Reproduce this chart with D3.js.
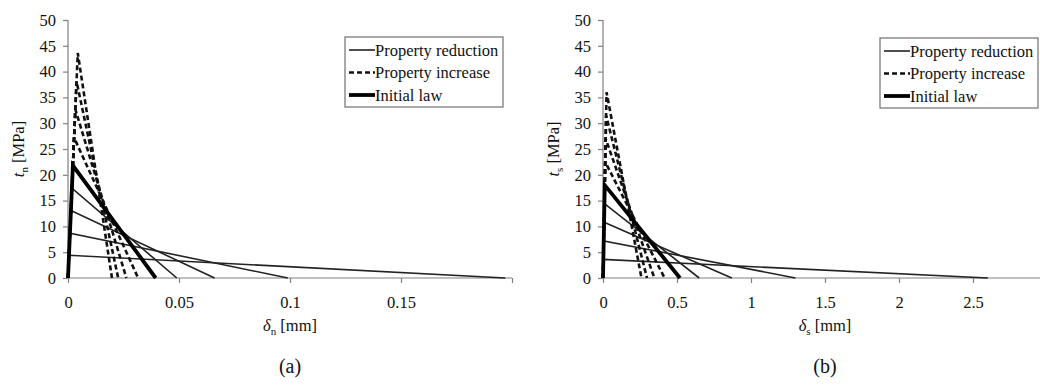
<!DOCTYPE html>
<html><head><meta charset="utf-8">
<script src="https://cdn.jsdelivr.net/npm/d3@7"></script>
<style>body{margin:0;background:#fff}svg{display:block}text{font-family:"Liberation Serif","Times New Roman","DejaVu Serif",serif;fill:#111}</style>
</head><body><svg id="c" width="1040" height="385"></svg>
<script>
// ---- Panel (a): normal direction ----
const aInitial = {peak: 21.8, d0: 0.0022, df: 0.0395};
const aReductionPeak = [17.4, 13.1, 8.7, 4.4];
const aReductionD0 = [0.00176, 0.00132, 0.00088, 0.00044];
const aReductionDf = [0.049, 0.066, 0.099, 0.197];
const aIncreasePeak = [27.2, 32.7, 38.1, 43.6];
const aIncreaseD0 = [0.00275, 0.0033, 0.00385, 0.0044];
const aIncreaseDf = [0.0316, 0.0263, 0.0226, 0.0198];
const aXTicks = [0, 0.05, 0.1, 0.15, 0.2];
const aXTickLabels = ["0", "0.05", "0.1", "0.15", ""];
// ---- Panel (b): shear direction ----
const bInitial = {peak: 18, d0: 0.012, df: 0.52};
const bReductionPeak = [14.4, 10.8, 7.2, 3.6];
const bReductionD0 = [0.0096, 0.0072, 0.0048, 0.0024];
const bReductionDf = [0.65, 0.87, 1.3, 2.6];
const bIncreasePeak = [22.5, 27, 31.5, 36];
const bIncreaseD0 = [0.015, 0.018, 0.021, 0.024];
const bIncreaseDf = [0.416, 0.347, 0.297, 0.26];
const bXTicks = [0, 0.5, 1, 1.5, 2, 2.5];
const bXTickLabels = ["0", "0.5", "1", "1.5", "2", "2.5"];
const yTicks = [0, 5, 10, 15, 20, 25, 30, 35, 40, 45, 50];
const legendLabels = ["Property reduction", "Property increase", "Initial law"];

const FONT = '"Liberation Serif","Times New Roman","DejaVu Serif",serif';
const svg = d3.select("#c");
const axisColor = "#808080";
const styles = {
  reduction: {w: 1.6, dash: null, c: "#222"},
  increase: {w: 2.6, dash: "5,3", c: "#111"},
  initial: {w: 3.8, dash: null, c: "#000"}
};

function panel(o) {
  const x = d3.scaleLinear().domain(o.xDomain).range(o.xRange);
  const y = d3.scaleLinear().domain([0, 50]).range([278, 20]);
  const g = svg.append("g");
  const ya = g.append("g").attr("transform", `translate(${o.xRange[0]},0)`)
    .call(d3.axisLeft(y).tickValues(yTicks).tickSize(5).tickPadding(7));
  const xa = g.append("g").attr("transform", `translate(0,278)`)
    .call(d3.axisBottom(x).tickValues(o.xTicks).tickFormat((d,i)=>o.xLabels[i]).tickSize(5).tickPadding(13));
  [ya, xa].forEach(a => {
    a.attr("font-family", null).attr("font-size", null);
    a.select(".domain").attr("stroke", axisColor).attr("stroke-width", 1.2);
    a.selectAll(".tick line").attr("stroke", axisColor).attr("stroke-width", 1.2);
    a.selectAll("text").style("font-family", FONT).style("font-size", "16.5px").attr("fill", "#111");
  });
  xa.select(".domain").attr("d", `M${o.xRange[0]},0H${Math.min(o.xRange[1],1040)}`);
  ya.select(".domain").attr("d", "M0,278V20");

  const line = d3.line().x(d => x(d[0])).y(d => y(d[1]));
  const law = (p, d0, df) => [[0, 0], [d0, p], [df, 0]];
  const draw = (pts, s) => g.append("path").attr("d", line(pts)).attr("fill", "none")
    .attr("stroke", s.c).attr("stroke-width", s.w).attr("stroke-dasharray", s.dash)
    .attr("stroke-linejoin", "miter");
  o.redP.forEach((p, i) => draw(law(p, o.redD0[i], o.redDf[i]), styles.reduction));
  o.incP.forEach((p, i) => draw(law(p, o.incD0[i], o.incDf[i]), styles.increase));
  draw(law(o.init.peak, o.init.d0, o.init.df), styles.initial);

  const lx = o.legX, ly = o.legY;
  g.append("rect").attr("x", lx).attr("y", ly).attr("width", 158).attr("height", 70)
    .attr("fill", "#fff").attr("stroke", "#707070").attr("stroke-width", 1.2);
  const keys = ["reduction", "increase", "initial"];
  keys.forEach((k, i) => {
    const yy = ly + 13 + i * 22.5;
    const s = styles[k];
    g.append("line").attr("x1", lx + 4).attr("x2", lx + 30).attr("y1", yy).attr("y2", yy)
      .attr("stroke", s.c).attr("stroke-width", s.w).attr("stroke-dasharray", s.dash);
    g.append("text").attr("x", lx + 30).attr("y", yy + 5.5).style("font-family", FONT).style("font-size", "16.5px").text(legendLabels[i]);
  });

  const cx = (o.xRange[0] + Math.min(o.xRange[1], 1047)) / 2;
  const yt = g.append("text").attr("transform", `translate(${o.xRange[0] - 44},149) rotate(-90)`)
    .attr("text-anchor", "middle").style("font-family", FONT).style("font-size", "16.5px");
  yt.append("tspan").style("font-style", "italic").text("t");
  yt.append("tspan").attr("dy", 4).style("font-size", "11px").text(o.sub);
  yt.append("tspan").attr("dy", -4).text(" [MPa]");
  const xt = g.append("text").attr("x", cx).attr("y", 331).attr("text-anchor", "middle").style("font-family", FONT).style("font-size", "16.5px");
  xt.append("tspan").style("font-style", "italic").text("δ");
  xt.append("tspan").attr("dy", 4).style("font-size", "11px").text(o.sub);
  xt.append("tspan").attr("dy", -4).text(" [mm]");
  g.append("text").attr("x", cx).attr("y", 373).attr("text-anchor", "middle").style("font-family", FONT).style("font-size", "20px").text(o.tag);
}

panel({xDomain: [0, 0.2], xRange: [68, 512], xTicks: aXTicks, xLabels: aXTickLabels,
  redP: aReductionPeak, redD0: aReductionD0, redDf: aReductionDf,
  incP: aIncreasePeak, incD0: aIncreaseD0, incDf: aIncreaseDf, init: aInitial,
  legX: 345, legY: 37, sub: "n", tag: "(a)"});
panel({xDomain: [0, 3], xRange: [603, 1047], xTicks: bXTicks, xLabels: bXTickLabels,
  redP: bReductionPeak, redD0: bReductionD0, redDf: bReductionDf,
  incP: bIncreasePeak, incD0: bIncreaseD0, incDf: bIncreaseDf, init: bInitial,
  legX: 880, legY: 38, sub: "s", tag: "(b)"});
</script></body></html>
